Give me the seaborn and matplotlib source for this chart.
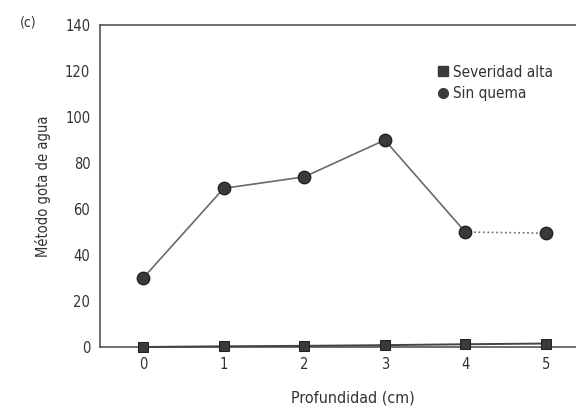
import matplotlib
matplotlib.use("Agg")
import matplotlib.pyplot as plt
from matplotlib.ticker import MultipleLocator
from matplotlib.lines import Line2D
import seaborn as sns
import pandas as pd

# Data
profundidad = [0, 1, 2, 3, 4, 5]
severidad_alta = [0, 0.3, 0.5, 0.8, 1.2, 1.5]
sin_quema = [30, 69, 74, 90, 50, 49.5]

sns.set_style("white")
plt.rcParams["font.family"] = ["DejaVu Sans"]
plt.rcParams["font.stretch"] = "condensed"

fig = plt.figure(figsize=(5.76, 4.09), dpi=100)
ax = fig.add_axes([0.1736, 0.1516, 0.83, 0.787])

df_sev = pd.DataFrame({"x": profundidad, "y": severidad_alta})
df_sin = pd.DataFrame({"x": profundidad, "y": sin_quema})

line_col = "#6a6a6a"
mark_col = "#3a3a3a"

# Severidad alta
sns.lineplot(data=df_sev, x="x", y="y", ax=ax, color="#444444", lw=1.4,
             marker="s", markersize=7.5, markerfacecolor=mark_col,
             markeredgecolor="#222222", clip_on=False, zorder=4)

# Sin quema: solid up to 4 cm, dotted between 4 and 5
sns.lineplot(data=df_sin.iloc[:5], x="x", y="y", ax=ax, color=line_col, lw=1.2,
             zorder=3)
sns.lineplot(data=df_sin.iloc[4:], x="x", y="y", ax=ax, color=line_col, lw=1.2,
             linestyle=":", zorder=3)
ax.scatter(df_sin["x"], df_sin["y"], s=80, color=mark_col, edgecolor="#222222",
           zorder=5)

# Axes
ax.set_xlim(-0.536, 5.40)
ax.set_ylim(0, 140)
ax.set_yticks(range(0, 141, 20))
ax.set_xticks(profundidad)
ax.xaxis.set_minor_locator(MultipleLocator(0.5))
ax.tick_params(axis="both", which="major", direction="out", length=3,
               width=0.8, color="#555555", labelsize=10.5, labelcolor="#333333",
               pad=4)
ax.tick_params(axis="x", which="minor", direction="out", length=2,
               width=0.8, color="#999999")
ax.set_xlabel("Profundidad (cm)", fontsize=11.5, color="#333333")
ax.xaxis.set_label_coords(0.529, -0.134)
ax.set_ylabel("Método gota de agua", fontsize=10.5, color="#333333", labelpad=10)

for side in ["left", "top", "bottom"]:
    ax.spines[side].set_color("#555555")
    ax.spines[side].set_linewidth(1.2)
ax.spines["right"].set_visible(False)

# Legend
handles = [
    Line2D([], [], marker="s", linestyle="none", color=mark_col, markersize=7),
    Line2D([], [], marker="o", linestyle="none", color=mark_col, markersize=7),
]
ax.legend(handles, ["Severidad alta", "Sin quema"], loc="upper left",
          bbox_to_anchor=(0.672, 0.92), frameon=False, fontsize=11,
          handletextpad=0.2, labelspacing=0.45, handlelength=1.0,
          labelcolor="#333333")

fig.text(0.035, 0.935, "(c)", fontsize=10, color="#333333")

fig.savefig("out.png", dpi=100)
